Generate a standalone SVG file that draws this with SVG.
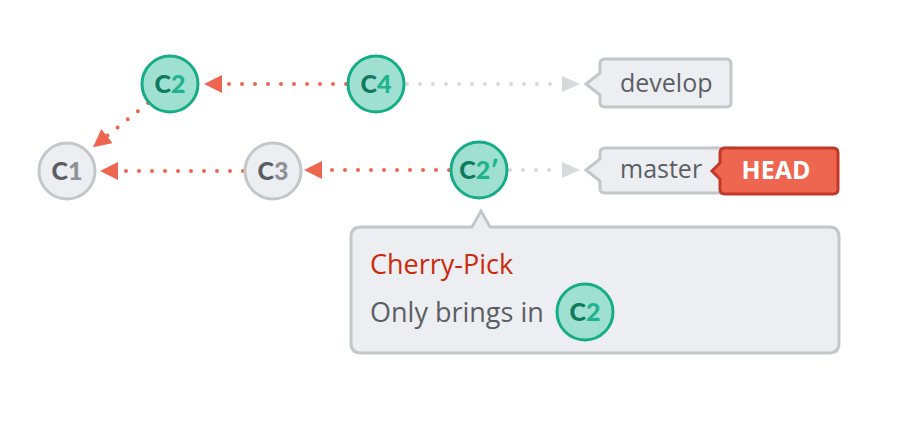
<svg xmlns="http://www.w3.org/2000/svg" width="903" height="422" viewBox="0 0 903 422">
<style>
.gn{fill:#9FE0D1;stroke:#16AD86;stroke-width:3}
.gr{fill:#EDEEF2;stroke:#C4C7CA;stroke-width:3}
.lbl{font-family:Lato,"Open Sans",sans-serif;font-weight:900;font-size:25px;text-anchor:middle}
.gc{fill:#0E7A5F}.gd{fill:#1DB38C}
.rc{fill:#5B5F64}.rd{fill:#8E9296}
.red{fill:none;stroke:#EE6650;stroke-width:4;stroke-linecap:round;stroke-dasharray:0 13}
.gry{fill:none;stroke:#D7D9DC;stroke-width:4;stroke-linecap:round;stroke-dasharray:0 13}
.txt{font-family:"Open Sans",Lato,sans-serif;font-size:25px;fill:#5B5F64}
.tip{font-family:"Open Sans",Lato,sans-serif;font-size:27px}
</style>
<defs>
<marker id="ar" markerUnits="userSpaceOnUse" markerWidth="20" markerHeight="20" refX="0" refY="9" orient="auto"><path d="M0,0 L18,9 L0,18 z" fill="#EE6650"/></marker>
<marker id="ag" markerUnits="userSpaceOnUse" markerWidth="20" markerHeight="20" refX="0" refY="8" orient="auto"><path d="M0,0 L18,8 L0,16 z" fill="#D7D9DC"/></marker>
</defs>
<g id="connectors">
<path class="red" d="M346,84 L222,84" marker-end="url(#ar)"/>
<path class="red" d="M148,103 L107,136" marker-end="url(#ar)"/>
<path class="red" d="M243,171 L118,171" marker-end="url(#ar)"/>
<path class="red" d="M449,170 L322,170" marker-end="url(#ar)"/>
<path class="gry" d="M407,84 L562,84" marker-end="url(#ag)"/>
<path class="gry" d="M510,170 L562,170" marker-end="url(#ag)"/>
</g>
<g id="C1"><circle class="gr" cx="67" cy="171" r="28"/><text class="lbl" x="67" y="180"><tspan class="rc">C</tspan><tspan class="rd">1</tspan></text></g>
<g id="C2"><circle class="gn" cx="170" cy="84" r="28"/><text class="lbl" x="170" y="93"><tspan class="gc">C</tspan><tspan class="gd">2</tspan></text></g>
<g id="C3"><circle class="gr" cx="273" cy="171" r="28"/><text class="lbl" x="273" y="180"><tspan class="rc">C</tspan><tspan class="rd">3</tspan></text></g>
<g id="C4"><circle class="gn" cx="376" cy="84" r="28"/><text class="lbl" x="376" y="93"><tspan class="gc">C</tspan><tspan class="gd">4</tspan></text></g>
<g id="C2p"><circle class="gn" cx="479" cy="170" r="28"/><text class="lbl" x="479" y="179"><tspan class="gc">C</tspan><tspan class="gd">2′</tspan></text></g>
<g id="develop">
<path class="gr" d="M605,59 H726 Q731,59 731,64 V102 Q731,107 726,107 H605 Q600,107 600,102 V95 L586,84 L600,73 V64 Q600,59 605,59 Z"/>
<text class="txt" x="620" y="92">develop</text>
</g>
<g id="master">
<path class="gr" d="M605,148 H735 Q740,148 740,153 V188 Q740,193 735,193 H605 Q600,193 600,188 V181 L586,170 L600,159 V153 Q600,148 605,148 Z"/>
<text class="txt" x="620" y="178">master</text>
</g>
<g id="HEAD">
<path d="M725,148 H833 Q838,148 838,153 V189 Q838,194 833,194 H725 Q720,194 720,189 V179 L712,171 L720,163 V153 Q720,148 725,148 Z" fill="#EE6650" stroke="#C2392A" stroke-width="3"/>
<text x="776" y="179" font-family="'Open Sans',Lato,sans-serif" font-weight="700" font-size="25" fill="#FFFFFF" text-anchor="middle">HEAD</text>
</g>
<g id="tooltip">
<path class="gr" d="M361,227 H472 L481,211 L490,227 H829 Q839,227 839,237 V343 Q839,353 829,353 H361 Q351,353 351,343 V237 Q351,227 361,227 Z"/>
<text class="tip" x="370" y="274" fill="#CC2A0E">Cherry-Pick</text>
<text class="tip" x="370" y="322" fill="#5B5F64">Only brings in</text>
<circle class="gn" cx="585" cy="312" r="28"/>
<text class="lbl" x="585" y="321"><tspan class="gc">C</tspan><tspan class="gd">2</tspan></text>
</g>
</svg>
